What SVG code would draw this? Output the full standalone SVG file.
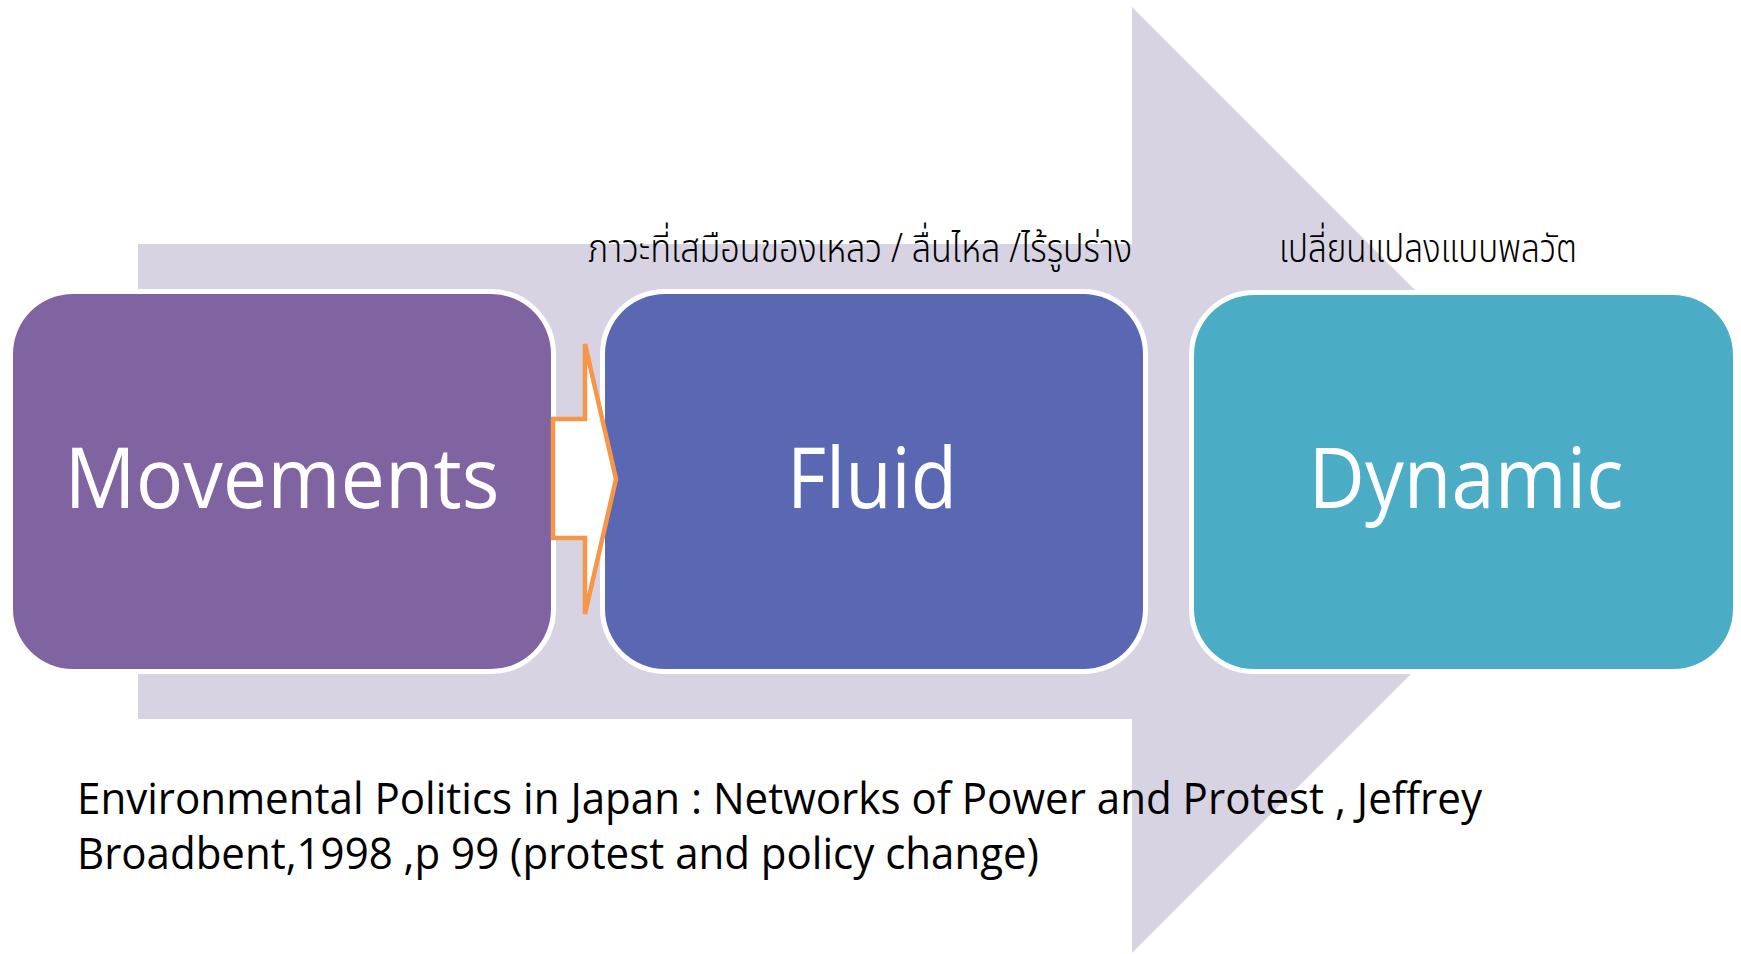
<svg xmlns="http://www.w3.org/2000/svg" width="1741" height="954" viewBox="0 0 1741 954">
  <style>
    .box { stroke: #FFFFFF; stroke-width: 10; paint-order: stroke; }
    .nodeText { font-family: "Open Sans", "Noto Sans", sans-serif; font-size: 85px; fill: #FFFFFF; text-anchor: middle; }
    .thai { font-family: "Noto Sans Thai", "Noto Sans", "DejaVu Sans", sans-serif; font-size: 40px; font-weight: 300; fill: #000000; }
    .cite { font-family: "Open Sans", "Noto Sans", sans-serif; font-size: 43px; fill: #000000; }
  </style>
  <rect x="0" y="0" width="1741" height="954" fill="#FFFFFF"/>
  <g id="background-arrow">
    <polygon points="138,244 1132,244 1132,7 1605,480 1132,953 1132,719 138,719" fill="#D7D3E3"/>
  </g>
  <g id="node-movements">
    <rect class="box" x="13" y="294" width="538" height="375" rx="60" ry="60" fill="#8064A2"/>
    <text class="nodeText" x="282" y="508" textLength="435" lengthAdjust="spacingAndGlyphs">Movements</text>
  </g>
  <g id="node-fluid">
    <rect class="box" x="605" y="294" width="538" height="375" rx="60" ry="60" fill="#5A67B3"/>
    <text class="nodeText" x="872" y="508" textLength="170" lengthAdjust="spacingAndGlyphs">Fluid</text>
  </g>
  <g id="node-dynamic">
    <rect class="box" x="1194" y="295" width="539" height="374" rx="60" ry="60" fill="#4BACC6"/>
    <text class="nodeText" x="1466" y="508" textLength="315" lengthAdjust="spacingAndGlyphs">Dynamic</text>
  </g>
  <g id="connectors">
    <path d="M553,419 L585,419 L585,344 L616,479 L585,614 L585,538 L553,538 Z" fill="#FFFFFF" stroke="#F79646" stroke-width="4.5" stroke-linejoin="miter"/>
  </g>
  <g id="labels">
    <text class="thai" x="588" y="262" textLength="544" lengthAdjust="spacingAndGlyphs">ภาวะที่เสมือนของเหลว / ลื่นไหล /ไร้รูปร่าง</text>
    <text class="thai" x="1279" y="262" textLength="298" lengthAdjust="spacingAndGlyphs">เปลี่ยนแปลงแบบพลวัต</text>
  </g>
  <g id="citation">
    <text class="cite" x="77" y="814" textLength="1405" lengthAdjust="spacingAndGlyphs">Environmental Politics in Japan : Networks of Power and Protest , Jeffrey</text>
    <text class="cite" x="77" y="869" textLength="962" lengthAdjust="spacingAndGlyphs">Broadbent,1998 ,p 99 (protest and policy change)</text>
  </g>
</svg>
